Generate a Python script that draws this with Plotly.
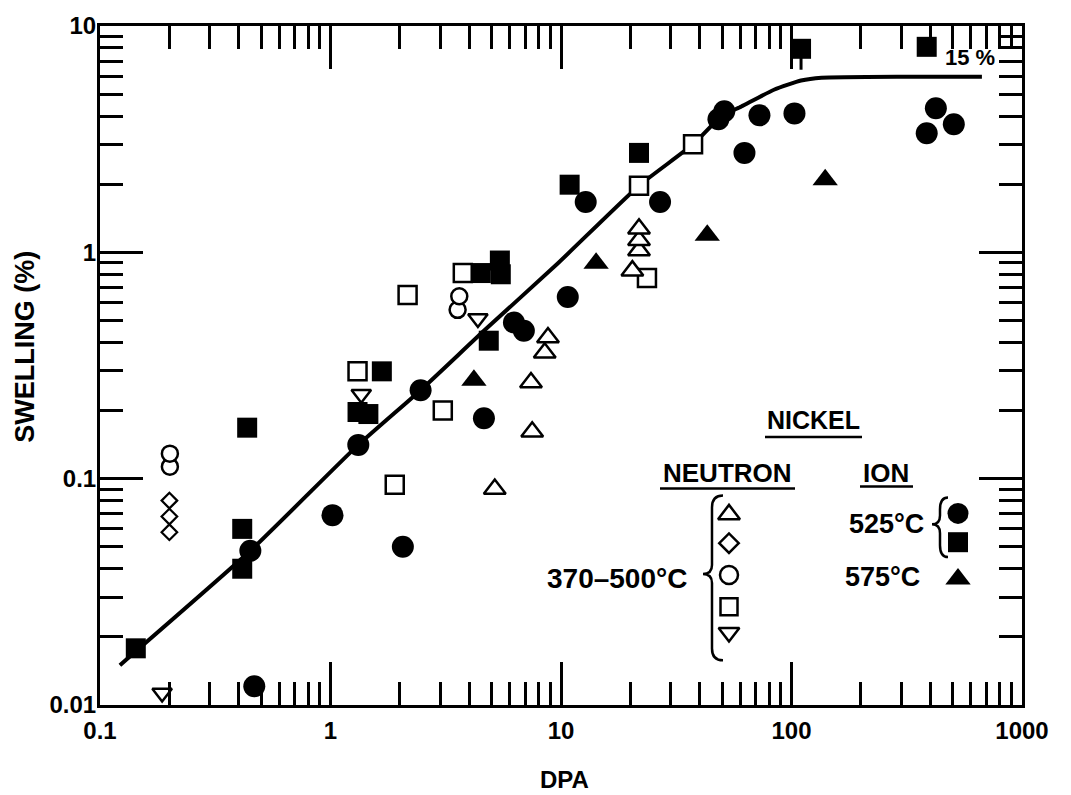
import plotly.graph_objects as go

# ---------------- data ----------------
# Ion irradiation, 525 C, filled circles
ion525_circle_x = [0.467, 0.449, 1.02, 2.06, 1.32, 2.46, 4.63, 6.25, 6.9, 10.7, 12.8, 26.9,
                   48.2, 51.1, 62.5, 72.6, 103, 386, 423, 506]
ion525_circle_y = [0.0121, 0.048, 0.069, 0.050, 0.141, 0.246, 0.185, 0.49, 0.45, 0.635, 1.67, 1.67,
                   3.87, 4.2, 2.75, 4.03, 4.11, 3.36, 4.33, 3.68]

# Ion irradiation, 525 C, filled squares
ion525_square_x = [0.143, 0.414, 0.414, 0.435, 1.31, 1.46, 1.67, 4.49, 4.86, 5.43, 5.48, 10.9, 21.8, 110, 386]
ion525_square_y = [0.0178, 0.040, 0.060, 0.168, 0.197, 0.193, 0.298, 0.81, 0.407, 0.92, 0.80, 1.99, 2.75, 7.93, 8.09]
ion525_square_err_minus = [0, 0, 0, 0, 0, 0, 0, 0, 0, 0, 0, 0, 0, 1.52, 0]

# Ion irradiation, 575 C, filled triangles
ion575_tri_x = [4.19, 14.2, 43.1, 140]
ion575_tri_y = [0.272, 0.895, 1.19, 2.09]

# Neutron irradiation, 370-500 C
neut_tri_x = [5.16, 7.5, 7.41, 8.5, 8.78, 20.4, 21.8, 21.8, 21.8]
neut_tri_y = [0.090, 0.161, 0.266, 0.36, 0.42, 0.83, 1.02, 1.13, 1.27]

neut_diamond_x = [0.2, 0.2, 0.2]
neut_diamond_y = [0.058, 0.068, 0.080]

neut_circle_x = [0.201, 0.201, 3.56, 3.62]
neut_circle_y = [0.113, 0.129, 0.557, 0.64]

neut_square_x = [1.31, 1.90, 2.16, 3.07, 3.75, 21.8, 23.6, 37.4]
neut_square_y = [0.298, 0.094, 0.648, 0.20, 0.81, 1.97, 0.77, 3.0]

neut_dtri_x = [0.186, 1.36, 4.36]
neut_dtri_y = [0.0113, 0.236, 0.51]

# Trend curve
fit_x = [0.122, 0.449, 1.32, 2.46, 4.63, 9.7, 21.8, 37.4, 49.6, 60.6, 84.4, 110, 135, 301, 670]
fit_y = [0.015, 0.048, 0.141, 0.246, 0.45, 0.895, 1.97, 3.0, 3.99, 4.41, 5.24, 5.74, 5.91, 5.97, 5.97]

# Axis ticks
x_tickvals = [0.1, 1, 10, 100, 1000]
x_ticktext = ["0.1", "1", "10", "100", "1000"]
y_tickvals = [0.01, 0.1, 1, 10]
y_ticktext = ["0.01", "0.1", "1", "10"]

# ---------------- layout helpers ----------------
W, H = 1071, 795
ML, MR, MT, MB = 100, 49, 21, 90
PW, PH = W - ML - MR, H - MT - MB


def px(xpix):
    return (xpix - ML) / PW


def py(ypix):
    return (H - MB - ypix) / PH


FONT = "Liberation Sans"
BLACK = "black"

minor_x = [m * 10 ** e for e in range(-1, 3) for m in range(2, 10)]
minor_y = [m * 10 ** e for e in range(-2, 1) for m in range(2, 10)]

fig = go.Figure()

# trend line
fig.add_trace(go.Scatter(x=fit_x, y=fit_y, mode="lines",
                         line=dict(color=BLACK, width=4, shape="spline", smoothing=0.5),
                         hoverinfo="skip"))

open_line = dict(color=BLACK, width=2.5)

fig.add_trace(go.Scatter(x=neut_square_x, y=neut_square_y, mode="markers",
                         marker=dict(symbol="square", size=18, color="white", line=open_line)))
fig.add_trace(go.Scatter(x=neut_tri_x, y=neut_tri_y, mode="markers",
                         marker=dict(symbol="triangle-up", size=19, color="white", line=open_line)))
fig.add_trace(go.Scatter(x=neut_diamond_x, y=neut_diamond_y, mode="markers",
                         marker=dict(symbol="diamond", size=12, color="white", line=dict(color=BLACK, width=2.2))))
fig.add_trace(go.Scatter(x=neut_circle_x, y=neut_circle_y, mode="markers",
                         marker=dict(symbol="circle", size=16, color="white", line=open_line)))
fig.add_trace(go.Scatter(x=neut_dtri_x, y=neut_dtri_y, mode="markers",
                         marker=dict(symbol="triangle-down", size=17, color="white", line=open_line)))

fig.add_trace(go.Scatter(x=ion525_square_x, y=ion525_square_y, mode="markers",
                         marker=dict(symbol="square", size=20, color=BLACK),
                         error_y=dict(type="data", symmetric=False,
                                      array=[0] * len(ion525_square_x),
                                      arrayminus=ion525_square_err_minus,
                                      color=BLACK, thickness=3, width=0)))
fig.add_trace(go.Scatter(x=ion525_circle_x, y=ion525_circle_y, mode="markers",
                         marker=dict(symbol="circle", size=22, color=BLACK)))
fig.add_trace(go.Scatter(x=ion575_tri_x, y=ion575_tri_y, mode="markers",
                         marker=dict(symbol="triangle-up", size=22, color=BLACK)))

# ---------------- key (legend drawn inside the plot) ----------------
key_items = [
    (729, 513, dict(symbol="triangle-up", size=19, color="white", line=open_line)),
    (729, 542, dict(symbol="diamond", size=15, color="white", line=open_line)),
    (729, 574, dict(symbol="circle", size=18, color="white", line=open_line)),
    (729, 606, dict(symbol="square", size=17, color="white", line=open_line)),
    (729, 632, dict(symbol="triangle-down", size=18, color="white", line=open_line)),
    (958, 512, dict(symbol="circle", size=21, color=BLACK)),
    (958, 541, dict(symbol="square", size=20, color=BLACK)),
    (958, 578, dict(symbol="triangle-up", size=22, color=BLACK)),
]
for kx, ky, mk in key_items:
    fig.add_trace(go.Scatter(x=[px(kx)], y=[py(ky)], mode="markers", marker=mk,
                             xaxis="x2", yaxis="y2", hoverinfo="skip"))

tf = lambda s: dict(family=FONT, size=s, color=BLACK, weight="bold")
annos = [
    ("NICKEL", 813, 418, 25),
    ("NEUTRON", 727, 471, 26),
    ("ION", 886, 471, 26),
    ("525°C", 886, 523, 27),
    ("575°C", 882, 576, 27),
    ("370–500°C", 617, 578, 28),
    ("15 %", 970, 53, 22),
    ("DPA", 564, 780, 24),
]
annotations = [dict(text=t, x=px(ax), y=py(ay), xref="paper", yref="paper",
                    xanchor="center", yanchor="middle", showarrow=False, font=tf(s))
               for t, ax, ay, s in annos]
annotations.append(dict(text="SWELLING (%)", x=px(25), y=py(344), xref="paper", yref="paper",
                        xanchor="center", yanchor="middle", showarrow=False, textangle=-90,
                        font=tf(27)))

shapes = []
# underlines
for x0, x1, yy in [(765, 862, 435), (660, 795, 487), (860, 913, 485)]:
    shapes.append(dict(type="line", xref="paper", yref="paper", x0=px(x0), x1=px(x1),
                       y0=py(yy), y1=py(yy), line=dict(color=BLACK, width=2.5)))


def brace(xr, xm, xt, ytop, ymid, ybot):
    pts = [
        ("M", xr, ytop),
        ("Q", xm, ytop, xm, ytop + 12),
        ("L", xm, ymid - 9),
        ("Q", xm, ymid, xt, ymid),
        ("Q", xm, ymid, xm, ymid + 9),
        ("L", xm, ybot - 12),
        ("Q", xm, ybot, xr, ybot),
    ]
    out = []
    for p in pts:
        cmd = p[0]
        coords = p[1:]
        s = cmd
        for i in range(0, len(coords), 2):
            s += f" {px(coords[i]):.5f},{py(coords[i + 1]):.5f}"
        out.append(s)
    return " ".join(out)


shapes.append(dict(type="path", xref="paper", yref="paper",
                   path=brace(723, 712, 703, 494, 573, 660), line=dict(color=BLACK, width=2.5)))
shapes.append(dict(type="path", xref="paper", yref="paper",
                   path=brace(948, 940, 932, 496, 523, 556), line=dict(color=BLACK, width=2.5)))

axis_common = dict(
    type="log", showline=True, linewidth=3, linecolor=BLACK, mirror="ticks",
    ticks="inside", ticklen=43, tickwidth=3, tickcolor=BLACK,
    showgrid=False, zeroline=False,
    tickfont=dict(family=FONT, size=24, color=BLACK, weight="bold"),
)

fig.update_layout(
    width=W, height=H,
    margin=dict(l=ML, r=MR, t=MT, b=MB, pad=0),
    paper_bgcolor="white", plot_bgcolor="white",
    showlegend=False,
    xaxis=dict(range=[-1, 3], tickmode="array", tickvals=x_tickvals, ticktext=x_ticktext,
               ticklabelstandoff=2,
               minor=dict(tickmode="array", tickvals=minor_x, ticks="inside", ticklen=23,
                          tickwidth=3, tickcolor=BLACK, showgrid=False),
               **axis_common),
    yaxis=dict(range=[-2, 1], tickmode="array", tickvals=y_tickvals, ticktext=y_ticktext,
               ticklabelstandoff=-4,
               minor=dict(tickmode="array", tickvals=minor_y, ticks="inside", ticklen=23,
                          tickwidth=3, tickcolor=BLACK, showgrid=False),
               **axis_common),
    xaxis2=dict(overlaying="x", range=[0, 1], visible=False, fixedrange=True),
    yaxis2=dict(overlaying="y", range=[0, 1], visible=False, fixedrange=True),
    annotations=annotations,
    shapes=shapes,
)

fig.write_html("out.html")
